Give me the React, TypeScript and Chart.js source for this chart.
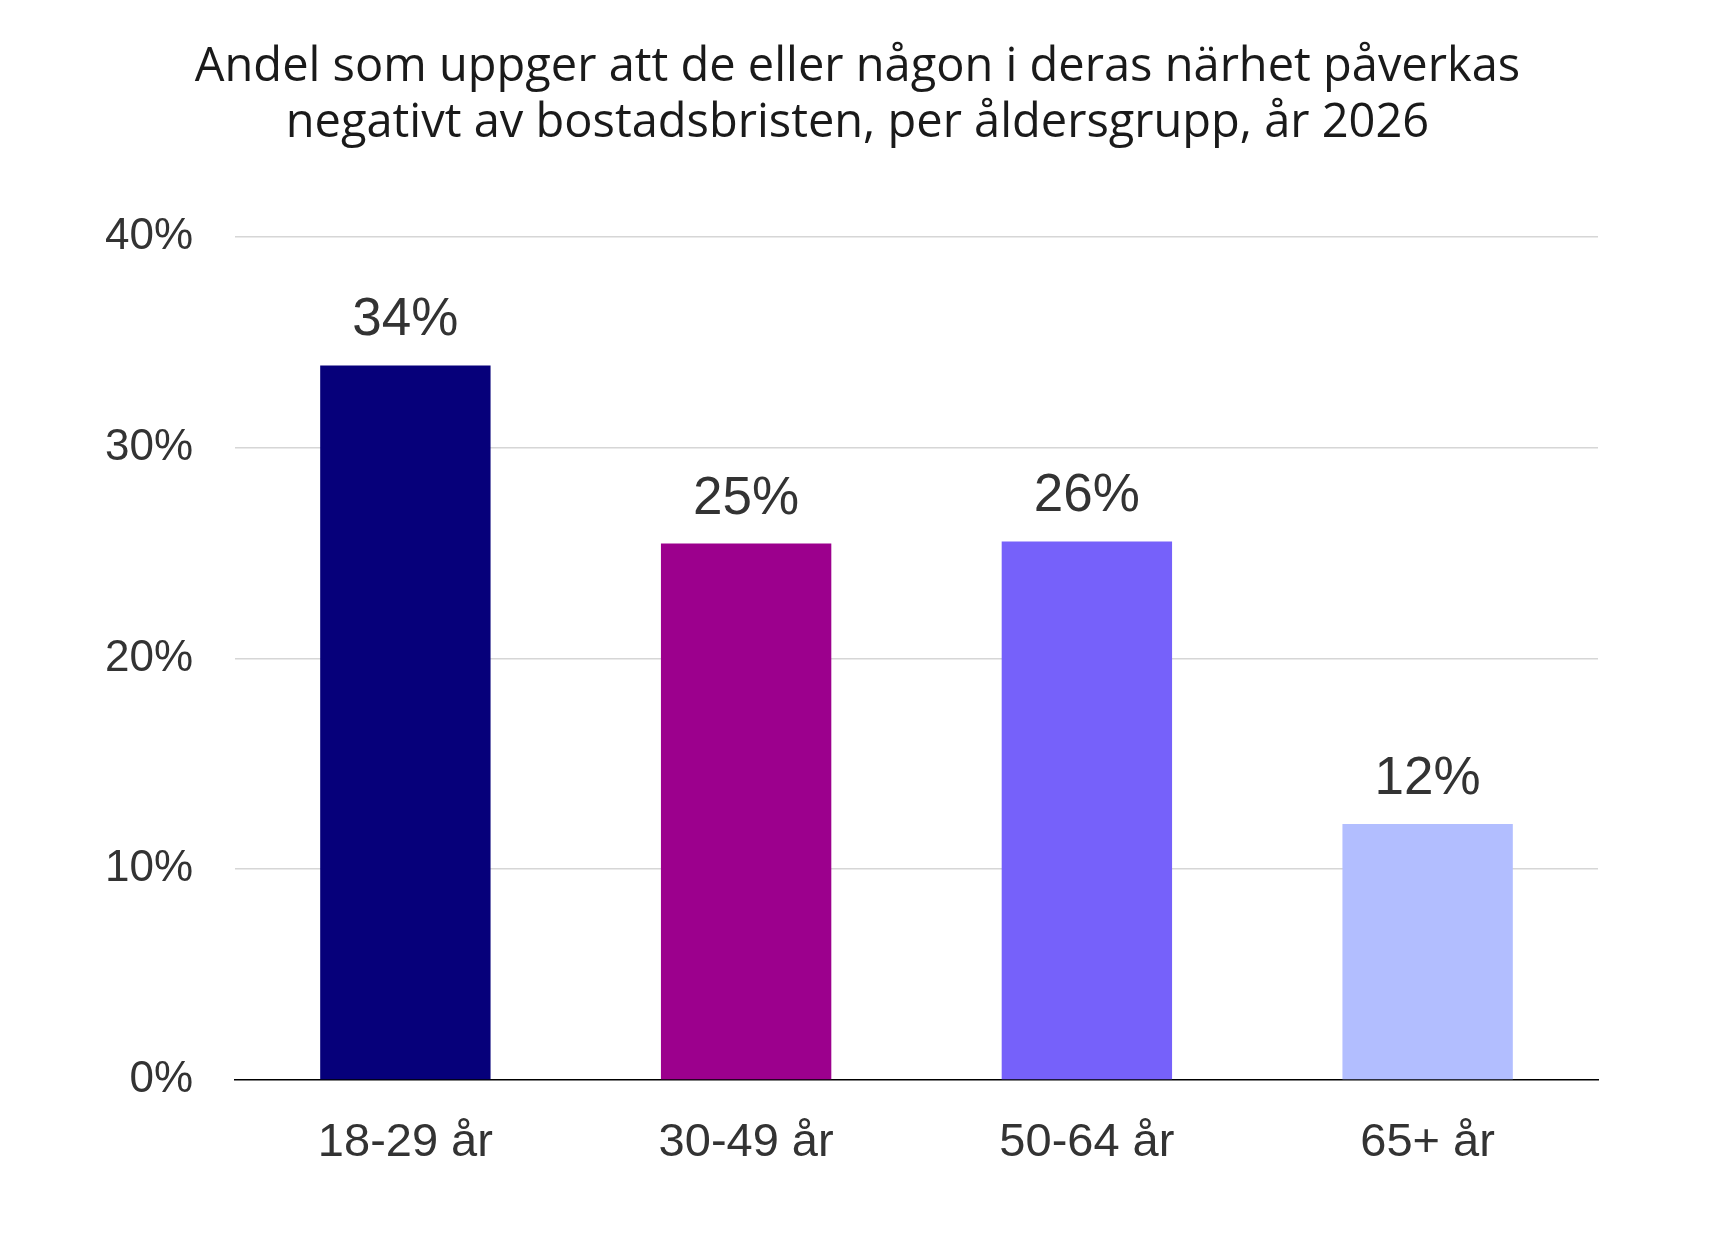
import { useEffect, useRef } from 'react';
import { Chart, registerables } from 'chart.js';
import type { Chart as ChartType, Plugin } from 'chart.js';

Chart.register(...registerables);

const categories = ['18-29 år', '30-49 år', '50-64 år', '65+ år'];
const shares = [33.9, 25.45, 25.55, 12.15];
const barColors = ['#06007A', '#9C008D', '#7661FA', '#B2BEFF'];
const titleLines = [
  'Andel som uppger att de eller någon i deras närhet påverkas',
  'negativt av bostadsbristen, per åldersgrupp, år 2026',
];

const TICK_FONT = '"Liberation Sans", Arial, sans-serif';

// draws the rounded percentage above each bar
const valueLabels: Plugin<'bar'> = {
  id: 'valueLabels',
  afterDatasetsDraw(chart) {
    const { ctx } = chart;
    const meta = chart.getDatasetMeta(0);
    ctx.save();
    ctx.font = `53px ${TICK_FONT}`;
    ctx.fillStyle = '#333333';
    ctx.textAlign = 'center';
    ctx.textBaseline = 'alphabetic';
    meta.data.forEach((bar, i) => {
      const v = chart.data.datasets[0].data[i] as number;
      ctx.fillText(`${Math.round(v)}%`, bar.x, bar.y - 30);
    });
    ctx.restore();
  },
};

export default function App() {
  const canvasRef = useRef<HTMLCanvasElement>(null);
  const chartRef = useRef<ChartType | null>(null);

  useEffect(() => {
    document.body.style.margin = '0';
    if (!canvasRef.current) return;
    const ctx = canvasRef.current.getContext('2d');
    if (!ctx) return;
    if (chartRef.current) chartRef.current.destroy();

    chartRef.current = new Chart(ctx, {
      type: 'bar',
      data: {
        labels: categories,
        datasets: [
          {
            data: shares,
            backgroundColor: barColors,
            categoryPercentage: 1,
            barPercentage: 0.5,
          },
        ],
      },
      options: {
        animation: false,
        responsive: false,
        layout: { padding: 0 },
        plugins: {
          legend: { display: false },
          tooltip: { enabled: false },
          title: {
            display: true,
            text: titleLines,
            color: '#1a1a1a',
            font: { family: '"Open Sans", sans-serif', size: 47, weight: 'normal', lineHeight: 1.19 },
            padding: { top: 40, bottom: 85 },
          },
        },
        scales: {
          x: {
            grid: { display: false, drawTicks: false },
            border: { display: true, color: '#000000', width: 1.5 },
            ticks: {
              color: '#333333',
              font: { family: TICK_FONT, size: 47 },
              padding: 35,
            },
            afterFit: (scale) => {
              scale.height = 154;
            },
          },
          y: {
            min: 0,
            max: 40,
            grid: {
              color: (c) => (c.tick && c.tick.value === 0 ? 'rgba(0,0,0,0)' : '#d6d6d6'),
              lineWidth: 1.5,
              drawTicks: false,
            },
            border: { display: false },
            ticks: {
              stepSize: 10,
              color: '#333333',
              font: { family: TICK_FONT, size: 44 },
              padding: 42,
              callback: (value) => `${value}%`,
            },
            afterFit: (scale) => {
              scale.width = 235;
            },
          },
          // empty right-hand axis only reserves the right margin
          yRight: {
            position: 'right',
            display: true,
            grid: { display: false, drawTicks: false },
            border: { display: false },
            ticks: { display: false },
            afterFit: (scale) => {
              scale.width = 117;
            },
          },
        },
      },
      plugins: [valueLabels],
    });

    return () => {
      if (chartRef.current) {
        chartRef.current.destroy();
        chartRef.current = null;
      }
    };
  }, []);

  return (
    <div style={{ position: 'absolute', left: 0, top: 0, width: 1715, height: 1234, background: '#ffffff' }}>
      <canvas ref={canvasRef} width={1715} height={1234} style={{ width: 1715, height: 1234 }} />
    </div>
  );
}
